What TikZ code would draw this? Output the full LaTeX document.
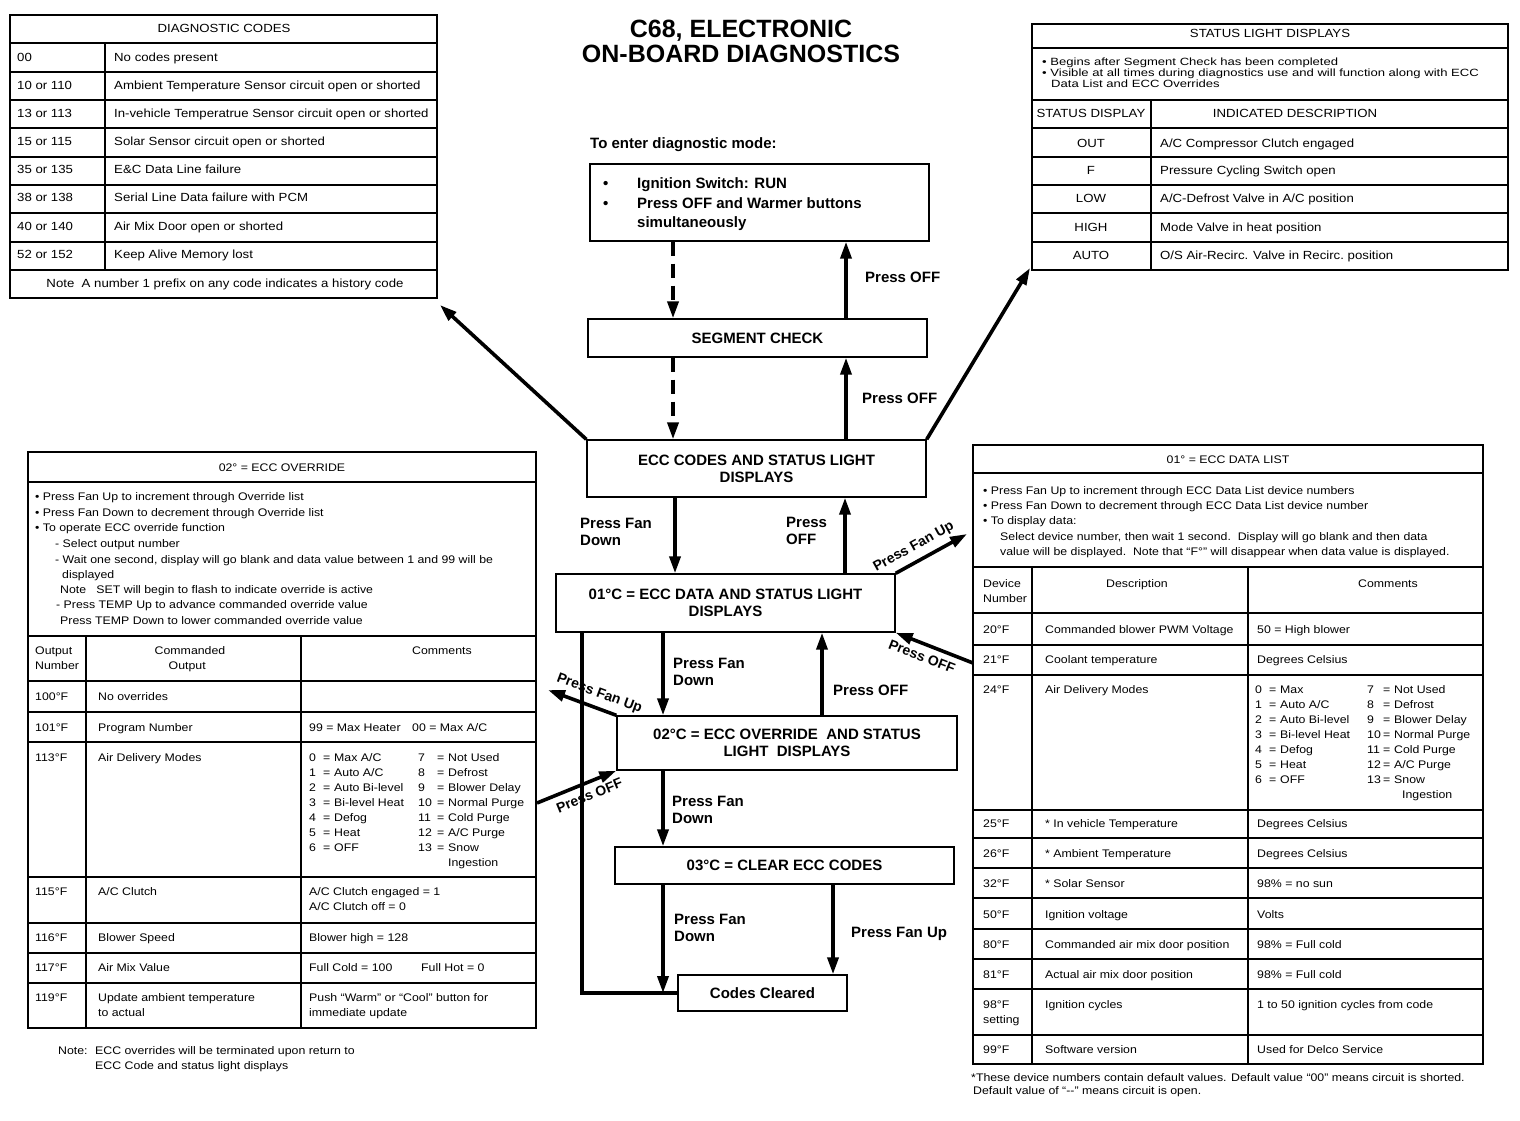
\documentclass[tikz,border=0pt]{standalone}
\usepackage{fontspec}
\setmainfont{Liberation Sans}
\newfontfamily\tabfam{Liberation Sans}[FakeStretch=1.12]
\newfontfamily\widefam{Liberation Sans}[FakeStretch=1.245]
\usetikzlibrary{arrows.meta}
\newcommand{\tabf}{\tabfam\fontsize{11}{15}\selectfont}
\newcommand{\tabfb}{\tabfam\fontsize{11.8}{15}\selectfont}
\newcommand{\tabfw}{\widefam\fontsize{10.5}{11}\selectfont}
\newcommand{\flowf}{\fontsize{15}{17}\selectfont\bfseries}
\newcount\tcnt
\newcommand\txnode[4]{\node[#2] (#1) at (#3) {#4};}
\newcommand\mytx[3][tt]{\global\advance\tcnt by 1\relax\edef\txname{t\the\tcnt}\expandafter\txnode\expandafter{\txname}{#1}{#2}{#3}}
\newcommand\ml[1]{\begin{tabular}[t]{@{}l@{}}#1\end{tabular}}
\begin{document}
\begin{tikzpicture}[x=1pt,y=-1pt,
  tt/.style={anchor=base west, inner sep=0pt, font=\tabf},
  tc/.style={anchor=base, inner sep=0pt, font=\tabf},
  tb/.style={anchor=base west, inner sep=0pt, font=\tabfb},
  tbc/.style={anchor=base, inner sep=0pt, font=\tabfb},
  tw/.style={anchor=base west, inner sep=0pt, font=\tabfw},
  tline/.style={line width=1.1pt},
  fbox/.style={draw, line width=1.4pt, inner sep=0pt, font=\flowf, align=center},
  lbl/.style={anchor=base west, inner sep=0pt, font=\flowf},
  arr/.style={line width=3.6pt, -{Triangle[length=17pt,width=11pt]}},
  darr/.style={arr, dash pattern=on 14pt off 8pt},
  slab/.style={font=\fontsize{14}{16}\selectfont\bfseries, sloped, inner sep=6pt},
]
\fill[white] (0,0) rectangle (1520,1120);
\useasboundingbox (0,0) rectangle (1520,1120);

% ---------------- Title and flow ----------------
\node[font=\fontsize{25}{25}\selectfont\bfseries, align=center, inner sep=0pt] (title) at (741,41) {C68, ELECTRONIC\\ON-BOARD DIAGNOSTICS};
\node[lbl] (enter) at (590,148) {To enter diagnostic mode:};

\node[fbox, minimum width=339pt, minimum height=77pt] (entry) at (759.5,202.5) {};
\node[lbl] (eb1) at (603,188) {•};
\node[lbl] (eb2) at (603,208) {•};
\node[lbl] (e1) at (637,188) {Ignition Switch: RUN};
\node[lbl] (e2) at (637,208) {Press OFF and Warmer buttons};
\node[lbl] (e3) at (637,227) {simultaneously};

\node[fbox, minimum width=339pt, minimum height=38pt] (seg) at (757.5,338) {SEGMENT CHECK};
\node[fbox, minimum width=339pt, minimum height=57pt] (ecc) at (756.5,468.5) {ECC CODES AND STATUS LIGHT\\DISPLAYS};
\node[fbox, minimum width=339pt, minimum height=58pt] (d01) at (725.5,603) {01°C = ECC DATA AND STATUS LIGHT\\DISPLAYS};
\node[fbox, minimum width=340pt, minimum height=54pt] (d02) at (787,743) {02°C = ECC OVERRIDE \ AND STATUS\\LIGHT \ DISPLAYS};
\node[fbox, minimum width=339pt, minimum height=37pt] (d03) at (784.5,865.5) {03°C = CLEAR ECC CODES};
\node[fbox, minimum width=169pt, minimum height=36pt] (clr) at (762.5,993) {Codes Cleared};

\coordinate (cA) at (673,0);
\coordinate (cB) at (846,0);
\coordinate (cC) at (675,0);
\coordinate (cD) at (845,0);
\coordinate (cE) at (663,0);
\coordinate (cF) at (822,0);
\coordinate (cG) at (833,0);
\coordinate (cH) at (582,0);

\draw[darr] (entry.south -| cA) -- (seg.north -| cA);
\draw[darr] (seg.south -| cA) -- (ecc.north -| cA);
\draw[arr] (seg.north -| cB) -- (entry.south -| cB);
\draw[arr] (ecc.north -| cB) -- (seg.south -| cB);
\draw[arr] (ecc.south -| cC) -- (d01.north -| cC);
\draw[arr] (d01.north -| cD) -- (ecc.south -| cD);
\draw[arr] (d01.south -| cE) -- (d02.north -| cE);
\draw[arr] (d02.north -| cF) -- (d01.south -| cF);
\draw[arr] (d02.south -| cE) -- (d03.north -| cE);
\draw[arr] (d03.south -| cE) -- (cE |- clr.west);
\draw[arr] (d03.south -| cG) -- (clr.north -| cG);
\draw[line width=3.6pt] (d01.south -| cH) |- (clr.west);

\coordinate (dcT) at (440,305);
\coordinate (slT) at (1030,268);
\draw[arr] (ecc.north west) -- (dcT);
\draw[arr] (ecc.north east) -- (slT);

\coordinate (dlT) at (967,534);
\coordinate (dlF) at (973,663);
\coordinate (ovT) at (548,690);
\coordinate (ovF) at (537,803);
\draw[arr] (d01.north east) -- node[slab, above, pos=0.35] (lfu1) {Press Fan Up} (dlT);
\draw[arr] (dlF) -- node[slab, below, pos=0.6] (lof1) {Press OFF} (d01.south east);
\draw[arr] (d02.north west) -- node[slab, above, pos=0.32] (lfu2) {Press Fan Up} (ovT);
\draw[arr] (ovF) -- node[slab, below, pos=0.6] (lof2) {Press OFF} (d02.south west);

\node[lbl] (l1) at (865,282) {Press OFF};
\node[lbl] (l2) at (862,403) {Press OFF};
\node[lbl] (l3) at (580,528) {\ml{Press Fan\\Down}};
\node[lbl] (l4) at (786,527) {\ml{Press\\OFF}};
\node[lbl] (l5) at (673,668) {\ml{Press Fan\\Down}};
\node[lbl] (l6) at (833,695) {Press OFF};
\node[lbl] (l7) at (672,806) {\ml{Press Fan\\Down}};
\node[lbl] (l8) at (674,924) {\ml{Press Fan\\Down}};
\node[lbl] (l9) at (851,937) {Press Fan Up};

% ---------------- Diagnostic codes table ----------------
\draw[tline] (10,15) rectangle (437,298);
\foreach \yy in {43,72,100,128,157,185,213,242,270} \draw[tline] (10,\yy) -- (437,\yy);
\draw[tline] (105,43) -- (105,270);
\mytx[tbc]{224,32}{DIAGNOSTIC CODES}
\mytx[tb]{17,61}{00}
\mytx[tb]{17,89}{10 or 110}
\mytx[tb]{17,117}{13 or 113}
\mytx[tb]{17,145}{15 or 115}
\mytx[tb]{17,173}{35 or 135}
\mytx[tb]{17,201}{38 or 138}
\mytx[tb]{17,230}{40 or 140}
\mytx[tb]{17,258}{52 or 152}
\mytx[tb]{114,61}{No codes present}
\mytx[tb]{114,89}{Ambient Temperature Sensor circuit open or shorted}
\mytx[tb]{114,117}{In-vehicle Temperatrue Sensor circuit open or shorted}
\mytx[tb]{114,145}{Solar Sensor circuit open or shorted}
\mytx[tb]{114,173}{E\&C Data Line failure}
\mytx[tb]{114,201}{Serial Line Data failure with PCM}
\mytx[tb]{114,230}{Air Mix Door open or shorted}
\mytx[tb]{114,258}{Keep Alive Memory lost}
\mytx[tbc]{225,287}{Note\ \ A number 1 prefix on any code indicates a history code}

% ---------------- Status light table ----------------
\draw[tline] (1032,24) rectangle (1508,270);
\foreach \yy in {48,100,128,157,185,213,242} \draw[tline] (1032,\yy) -- (1508,\yy);
\draw[tline] (1151,100) -- (1151,270);
\mytx[tbc]{1270,37}{STATUS LIGHT DISPLAYS}
\mytx[tw]{1042,65}{• Begins after Segment Check has been completed}
\mytx[tw]{1042,76}{• Visible at all times during diagnostics use and will function along with ECC}
\mytx[tw]{1051,87}{Data List and ECC Overrides}
\mytx[tbc]{1091,117}{STATUS DISPLAY}
\mytx[tbc]{1295,117}{INDICATED DESCRIPTION}
\mytx[tbc]{1091,147}{OUT}
\mytx[tbc]{1091,174}{F}
\mytx[tbc]{1091,202}{LOW}
\mytx[tbc]{1091,231}{HIGH}
\mytx[tbc]{1091,259}{AUTO}
\mytx[tb]{1160,147}{A/C Compressor Clutch engaged}
\mytx[tb]{1160,174}{Pressure Cycling Switch open}
\mytx[tb]{1160,202}{A/C-Defrost Valve in A/C position}
\mytx[tb]{1160,231}{Mode Valve in heat position}
\mytx[tb]{1160,259}{O/S Air-Recirc. Valve in Recirc.\ position}

% ---------------- ECC override table ----------------
\draw[tline] (28,452) rectangle (536,1028);
\foreach \yy in {482,636,681,712,742,877,923,953,983} \draw[tline] (28,\yy) -- (536,\yy);
\draw[tline] (86,636) -- (86,1028);
\draw[tline] (301,636) -- (301,1028);
\mytx[tc]{282,471}{02° = ECC OVERRIDE}
\mytx{35,500}{• Press Fan Up to increment through Override list}
\mytx{35,516}{• Press Fan Down to decrement through Override list}
\mytx{35,531}{• To operate ECC override function}
\mytx{55,547}{- Select output number}
\mytx{55,563}{- Wait one second, display will go blank and data value between 1 and 99 will be}
\mytx{62,578}{displayed}
\mytx{60,593}{Note\ \ \ SET will begin to flash to indicate override is active}
\mytx{56,608}{- Press TEMP Up to advance commanded override value}
\mytx{60,624}{Press TEMP Down to lower commanded override value}
\mytx{35,654}{\ml{Output\\Number}}
\mytx[tc]{190,654}{\ml{Commanded\\\hspace*{14pt}Output}}
\mytx[tc]{442,654}{Comments}
\mytx{35,700}{100°F}
\mytx{35,731}{101°F}
\mytx{35,761}{113°F}
\mytx{35,895}{115°F}
\mytx{35,941}{116°F}
\mytx{35,971}{117°F}
\mytx{35,1001}{119°F}
\mytx{98,700}{No overrides}
\mytx{98,731}{Program Number}
\mytx{98,761}{Air Delivery Modes}
\mytx{98,895}{A/C Clutch}
\mytx{98,941}{Blower Speed}
\mytx{98,971}{Air Mix Value}
\mytx{98,1001}{\ml{Update ambient temperature\\to actual}}
\mytx{309,731}{99 = Max Heater}
\mytx{412,731}{00 = Max A/C}
\mytx{309,761}{\begin{tabular}[t]{@{}p{14pt}@{}p{11pt}@{}l@{}}0&=&Max A/C\\1&=&Auto A/C\\2&=&Auto Bi-level\\3&=&Bi-level Heat\\4&=&Defog\\5&=&Heat\\6&=&OFF\end{tabular}}
\mytx{418,761}{\begin{tabular}[t]{@{}p{19pt}@{}p{11pt}@{}l@{}}7&=&Not Used\\8&=&Defrost\\9&=&Blower Delay\\10&=&Normal Purge\\11&=&Cold Purge\\12&=&A/C Purge\\13&=&Snow\\&&Ingestion\end{tabular}}
\mytx{309,895}{\ml{A/C Clutch engaged = 1\\A/C Clutch off = 0}}
\mytx{309,941}{Blower high = 128}
\mytx{309,971}{Full Cold = 100}
\mytx{421,971}{Full Hot = 0}
\mytx{309,1001}{\ml{Push “Warm” or “Cool” button for\\immediate update}}
\mytx{58,1054}{Note:}
\mytx{95,1054}{\ml{ECC overrides will be terminated upon return to\\ECC Code and status light displays}}

% ---------------- ECC data list table ----------------
\draw[tline] (973,445) rectangle (1483,1064);
\foreach \yy in {473,567,613,645,675,810,838,868,898,929,959,989,1035} \draw[tline] (973,\yy) -- (1483,\yy);
\draw[tline] (1032,567) -- (1032,1064);
\draw[tline] (1248,567) -- (1248,1064);
\mytx[tc]{1228,463}{01° = ECC DATA LIST}
\mytx{983,494}{• Press Fan Up to increment through ECC Data List device numbers}
\mytx{983,509}{• Press Fan Down to decrement through ECC Data List device number}
\mytx{983,524}{• To display data:}
\mytx{1000,540}{Select device number, then wait 1 second.\ \ Display will go blank and then data}
\mytx{1000,555}{value will be displayed.\ \ Note that “F°” will disappear when data value is displayed.}
\mytx{983,587}{\ml{Device\\Number}}
\mytx[tc]{1137,587}{Description}
\mytx[tc]{1388,587}{Comments}
\mytx{983,633}{20°F}
\mytx{983,663}{21°F}
\mytx{983,693}{24°F}
\mytx{983,827}{25°F}
\mytx{983,857}{26°F}
\mytx{983,887}{32°F}
\mytx{983,918}{50°F}
\mytx{983,948}{80°F}
\mytx{983,978}{81°F}
\mytx{983,1008}{\ml{98°F\\setting}}
\mytx{983,1053}{99°F}
\mytx{1045,633}{Commanded blower PWM Voltage}
\mytx{1045,663}{Coolant temperature}
\mytx{1045,693}{Air Delivery Modes}
\mytx{1045,827}{* In vehicle Temperature}
\mytx{1045,857}{* Ambient Temperature}
\mytx{1045,887}{* Solar Sensor}
\mytx{1045,918}{Ignition voltage}
\mytx{1045,948}{Commanded air mix door position}
\mytx{1045,978}{Actual air mix door position}
\mytx{1045,1008}{Ignition cycles}
\mytx{1045,1053}{Software version}
\mytx{1257,633}{50 = High blower}
\mytx{1257,663}{Degrees Celsius}
\mytx{1255,693}{\begin{tabular}[t]{@{}p{14pt}@{}p{11pt}@{}l@{}}0&=&Max\\1&=&Auto A/C\\2&=&Auto Bi-level\\3&=&Bi-level Heat\\4&=&Defog\\5&=&Heat\\6&=&OFF\end{tabular}}
\mytx{1367,693}{\begin{tabular}[t]{@{}p{16pt}@{}p{11pt}@{}l@{}}7&=&Not Used\\8&=&Defrost\\9&=&Blower Delay\\10&=&Normal Purge\\11&=&Cold Purge\\12&=&A/C Purge\\13&=&Snow\\&&\hspace*{8pt}Ingestion\end{tabular}}
\mytx{1257,827}{Degrees Celsius}
\mytx{1257,857}{Degrees Celsius}
\mytx{1257,887}{98\% = no sun}
\mytx{1257,918}{Volts}
\mytx{1257,948}{98\% = Full cold}
\mytx{1257,978}{98\% = Full cold}
\mytx{1257,1008}{1 to 50 ignition cycles from code}
\mytx{1257,1053}{Used for Delco Service}
\mytx{971,1081}{*These device numbers contain default values. Default value “00” means circuit is shorted.}
\mytx{973,1094}{Default value of “{-}{-}” means circuit is open.}
\end{tikzpicture}
\end{document}
